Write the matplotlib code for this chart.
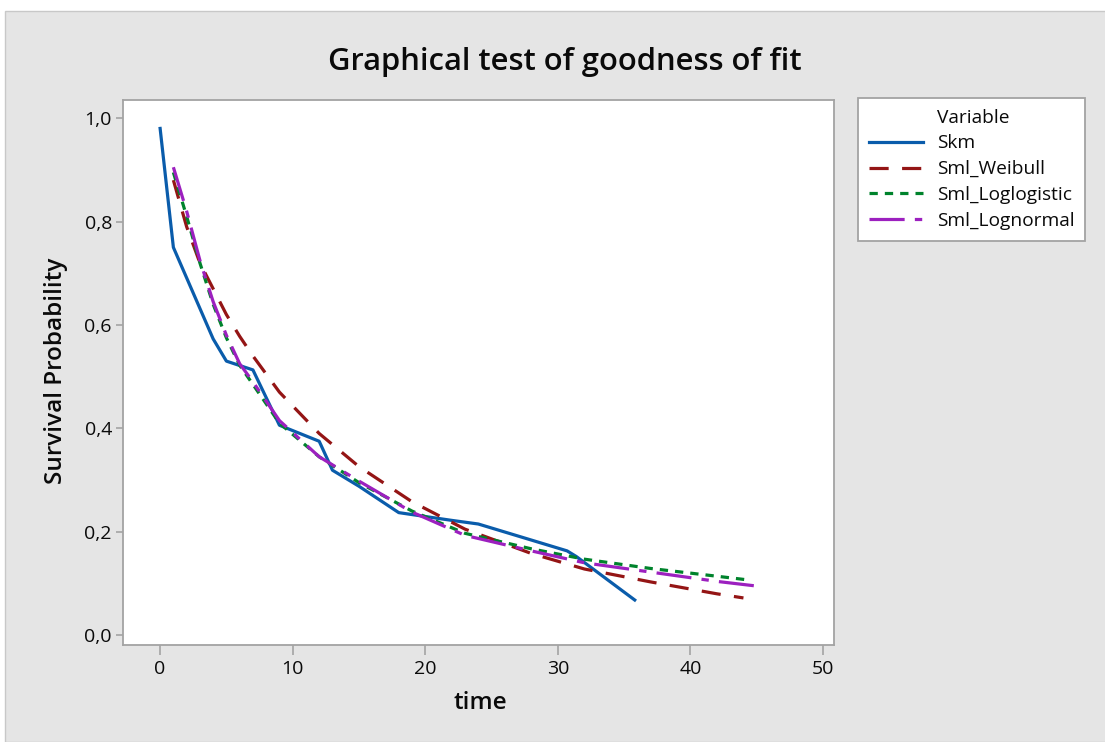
import matplotlib
matplotlib.use("Agg")
import matplotlib.pyplot as plt
from matplotlib.lines import Line2D
from matplotlib.patches import Rectangle
from matplotlib.ticker import FuncFormatter

# ---- data ----
skm_t = [0, 1, 4, 5, 7, 9, 12, 13, 15, 18, 22, 24, 30.7, 31.4, 35.8]
skm_s = [0.98, 0.75, 0.573, 0.53, 0.513, 0.406, 0.375, 0.319, 0.288, 0.237, 0.222, 0.215, 0.163, 0.152, 0.068]

weib_t = [1, 2, 3, 4, 5, 6, 7, 9, 12, 15, 19, 23, 28, 32, 37, 42, 44]
weib_s = [0.88, 0.79, 0.72, 0.67, 0.62, 0.578, 0.54, 0.47, 0.39, 0.326, 0.258, 0.205, 0.158, 0.128, 0.103, 0.080, 0.072]

llog_t = [1, 2, 3, 4, 5, 6, 7, 9, 12, 15, 19, 23, 28, 32, 37, 42, 44.3]
llog_s = [0.895, 0.81, 0.72, 0.64, 0.575, 0.522, 0.485, 0.41, 0.345, 0.295, 0.24, 0.197, 0.167, 0.147, 0.129, 0.114, 0.107]

lnorm_t = [1, 2, 3, 4, 5, 6, 7, 9, 12, 15, 19, 23, 28, 32, 37, 42, 45]
lnorm_s = [0.905, 0.82, 0.725, 0.645, 0.58, 0.525, 0.49, 0.415, 0.345, 0.298, 0.238, 0.193, 0.163, 0.140, 0.122, 0.104, 0.095]

x_ticks = [0, 10, 20, 30, 40, 50]
y_ticks = [0.0, 0.2, 0.4, 0.6, 0.8, 1.0]

title = "Graphical test of goodness of fit"
legend_title = "Variable"
series_names = ["Skm", "Sml_Weibull", "Sml_Loglogistic", "Sml_Lognormal"]

plt.rcParams['font.family'] = ['Open Sans', 'DejaVu Sans']

W, H = 1105, 742
fig = plt.figure(figsize=(W / 100, H / 100), dpi=100, facecolor='white')
bg = '#e5e5e5'
fig.patches.append(Rectangle((5 / W, 0), 1, (H - 11) / H, transform=fig.transFigure,
                             facecolor=bg, edgecolor='#c8c8c8', linewidth=1, zorder=-10))

ax_l, ax_r, ax_t, ax_b = 123, 834, 100, 645
ax = fig.add_axes([ax_l / W, 1 - ax_b / H, (ax_r - ax_l) / W, (ax_b - ax_t) / H])
ax.set_facecolor('white')

lw = 2.3
cols = ['#0a5cab', '#941515', '#00832c', '#9c20bf']
ax.plot(skm_t, skm_s, color=cols[0], lw=lw, solid_joinstyle='round', zorder=3)
ax.plot(weib_t, weib_s, color=cols[1], lw=lw, dashes=(6, 4.2), zorder=4)
ax.plot(llog_t, llog_s, color=cols[2], lw=lw, dashes=(2.6, 2.2), zorder=5)
ax.plot(lnorm_t, lnorm_s, color=cols[3], lw=lw, dashes=(11, 3.2, 2.3, 3.2), zorder=6)

ax.set_xlim(-2.8, 50.83)
ax.set_ylim(-0.019, 1.035)
ax.set_xticks(x_ticks)
ax.set_yticks(y_ticks)
ax.yaxis.set_major_formatter(FuncFormatter(lambda v, p: f"{v:.1f}".replace('.', ',')))
ax.xaxis.set_major_formatter(FuncFormatter(lambda v, p: f"{int(round(v))}"))

for s in ax.spines.values():
    s.set_color('#a3a3a3')
    s.set_linewidth(1.3)
ax.tick_params(direction='out', width=1.2, color='#a3a3a3', labelsize=14,
               labelcolor='#0a0a0a')
ax.tick_params(axis='y', length=5, pad=3)
ax.tick_params(axis='x', length=7, pad=4)

ax.set_xlabel('time', fontsize=17.5, fontweight='semibold', color='#0a0a0a', va='center')
ax.set_ylabel('Survival Probability', fontsize=17.5, fontweight='semibold', color='#0a0a0a', va='center')
ax.xaxis.set_label_coords((480 - ax_l) / (ax_r - ax_l), (ax_b - 703) / (ax_b - ax_t))
ax.yaxis.set_label_coords((56 - ax_l) / (ax_r - ax_l), (ax_b - 371) / (ax_b - ax_t))

fig.text(565 / W, 1 - 62 / H, title, ha='center', va='center', fontsize=22.3,
         fontweight='semibold', color='#0a0a0a')

handles = [Line2D([], [], color='none'),
           Line2D([], [], color=cols[0], lw=lw),
           Line2D([], [], color=cols[1], lw=lw, dashes=(6, 4.2)),
           Line2D([], [], color=cols[2], lw=lw, dashes=(2.6, 2.2)),
           Line2D([], [], color=cols[3], lw=lw, dashes=(11, 3.2, 2.3, 3.2))]
labels = [legend_title] + series_names
leg = fig.legend(handles, labels, loc='upper left', bbox_to_anchor=(858 / W, 1 - 98 / H),
                 frameon=True, fancybox=False, fontsize=13.8, handlelength=2.85,
                 handletextpad=0.7, borderpad=0.55, labelspacing=0.41, borderaxespad=0,
                 facecolor='white', framealpha=1)
leg.get_frame().set_edgecolor('#a3a3a3')
leg.get_frame().set_linewidth(1.3)
for t in leg.get_texts():
    t.set_color('#0a0a0a')

fig.savefig('out.png', dpi=100, facecolor='white')
